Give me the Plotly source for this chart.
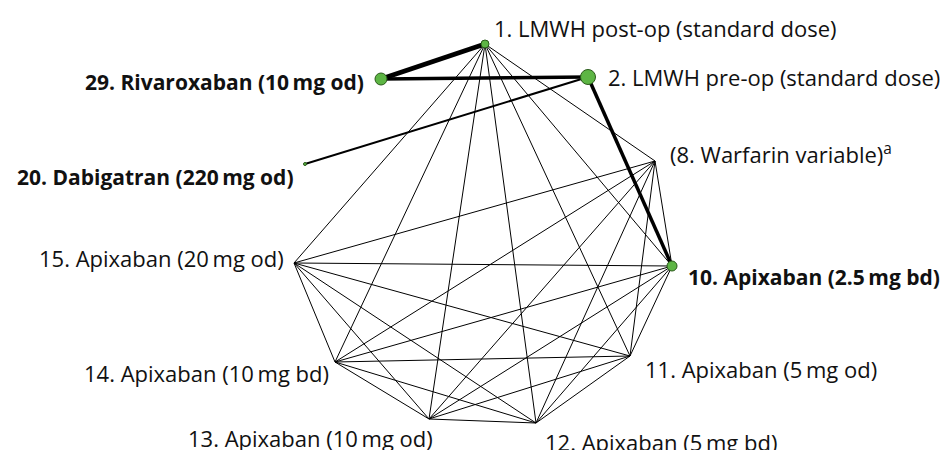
import plotly.graph_objects as go

# Node data (layout positions in the chart's plotting space, y downwards)
node_ids = ["1", "2", "29", "20", "8", "10", "11", "12", "13", "14", "15"]
node_labels = [
    "1. LMWH post-op (standard dose)",
    "2. LMWH pre-op (standard dose)",
    "<b>29. Rivaroxaban (10\u2009mg od)</b>",
    "<b>20. Dabigatran (220\u2009mg od)</b>",
    "(8. Warfarin variable)<sup>a</sup>",
    "<b>10. Apixaban (2.5\u2009mg bd)</b>",
    "11. Apixaban (5\u2009mg od)",
    "12. Apixaban (5\u2009mg bd)",
    "13. Apixaban (10\u2009mg od)",
    "14. Apixaban (10\u2009mg bd)",
    "15. Apixaban (20\u2009mg od)",
]
label_bold = [False, False, True, True, False, True, False, False, False, False, False]
node_x = [485, 588, 381, 305, 655, 672, 630, 536, 429, 335, 294]
node_y = [44, 77, 79, 164, 161, 266, 356, 423, 419, 362, 263]
node_size = [8, 15, 12, 3, 0, 10, 0, 0, 0, 0, 0]

# Edges: (from, to, line width proportional to number of trials)
edge_from = ["1", "29", "2", "2",
             "1", "1", "1", "1", "1", "1", "1",
             "8", "8", "8", "8", "8", "8",
             "15", "15", "15", "15", "15",
             "14", "14", "14", "14",
             "13", "13", "13",
             "12", "12",
             "11"]
edge_to = ["29", "2", "10", "20",
           "8", "10", "11", "12", "13", "14", "15",
           "10", "11", "12", "13", "14", "15",
           "10", "11", "12", "13", "14",
           "10", "11", "12", "13",
           "10", "11", "12",
           "10", "11",
           "10"]
edge_w = [5, 3.5, 3.5, 2] + [1] * 28

# Label placement relative to nodes
label_dx = [7, 18, -15, -9, 13, 14, 13, 7, 6, -4, -8]
label_dy = [-16, 0, 3, 13, -8, 11, 13, 19, 19, 11, -5]
label_anchor = ["left", "left", "right", "right", "left", "left", "left",
                "left", "right", "right", "right"]

pos = {n: (x, y) for n, x, y in zip(node_ids, node_x, node_y)}

fig = go.Figure()

for w in sorted(set(edge_w)):
    xs, ys = [], []
    for a, b, ww in zip(edge_from, edge_to, edge_w):
        if ww == w:
            xs += [pos[a][0], pos[b][0], None]
            ys += [pos[a][1], pos[b][1], None]
    fig.add_trace(go.Scatter(x=xs, y=ys, mode="lines",
                             line=dict(color="black", width=w),
                             hoverinfo="skip", showlegend=False))

mx = [x for x, s in zip(node_x, node_size) if s > 0]
my = [y for y, s in zip(node_y, node_size) if s > 0]
ms = [s for s in node_size if s > 0]
fig.add_trace(go.Scatter(x=mx, y=my, mode="markers",
                         marker=dict(size=ms, color="#5db544", opacity=1,
                                     line=dict(color="#2a5a1a", width=1)),
                         hoverinfo="skip", showlegend=False))

for lab, b, x, y, dx, dy, anc in zip(node_labels, label_bold, node_x, node_y,
                                     label_dx, label_dy, label_anchor):
    fig.add_annotation(x=x + dx, y=y + dy, text=lab, showarrow=False,
                       xanchor=anc, yanchor="middle",
                       font=dict(family="Open Sans", size=21 if b else 22,
                                 color="#111111"))

# page body has an 8px margin; compensate so plot space maps to window pixels
fig.update_xaxes(range=[8, 950], visible=False, fixedrange=True)
fig.update_yaxes(range=[450, 8], visible=False, fixedrange=True)
fig.update_layout(width=942, height=442, margin=dict(l=0, r=0, t=0, b=0),
                  plot_bgcolor="white", paper_bgcolor="white")

fig.write_html("out.html")
